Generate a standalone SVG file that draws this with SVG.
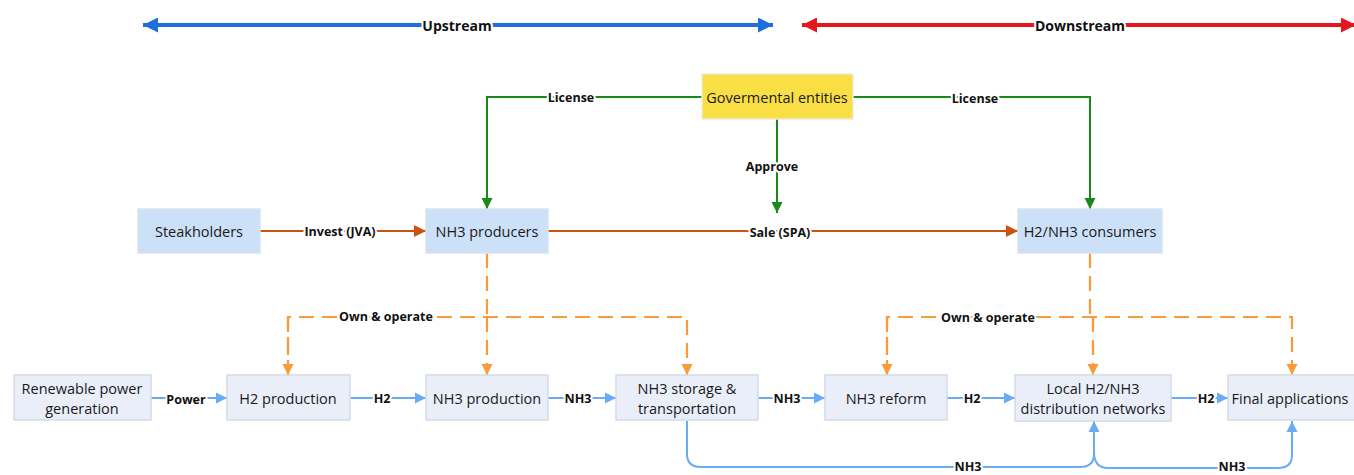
<svg xmlns="http://www.w3.org/2000/svg" width="1354" height="475" viewBox="0 0 1354 475">
<style>
.nt{font-family:"Open Sans","Noto Sans","Liberation Sans",sans-serif;font-size:14.5px;fill:#1a1a1a;text-anchor:middle;dominant-baseline:central}
.lb{font-family:"Open Sans","Noto Sans","Liberation Sans",sans-serif;font-size:12.5px;font-weight:bold;fill:#111;text-anchor:middle;dominant-baseline:central;stroke:#fff;stroke-width:4;paint-order:stroke;stroke-linejoin:round}
.top{fill:#CCE1F7;stroke:#D8E3EF;stroke-width:1.5}
.bot{fill:#E9EEF9;stroke:#D3DAE6;stroke-width:1.5}
.gov{fill:#F9DF44;stroke:#EDEBD8;stroke-width:1.5}
.g{fill:none;stroke:#198A19;stroke-width:2}
.o{fill:none;stroke:#C9530F;stroke-width:2}
.d{fill:none;stroke:#FA9A3C;stroke-width:2.2;stroke-dasharray:15 8}
.b{fill:none;stroke:#6AABF5;stroke-width:2}
</style>
<defs>
<marker id="mg" viewBox="0 0 10 10" refX="10" refY="5" markerWidth="11" markerHeight="12" markerUnits="userSpaceOnUse" orient="auto"><path d="M0,0L10,5L0,10z" fill="#198A19"/></marker>
<marker id="mo" viewBox="0 0 10 10" refX="10" refY="5" markerWidth="12" markerHeight="12" markerUnits="userSpaceOnUse" orient="auto"><path d="M0,0L10,5L0,10z" fill="#C9530F"/></marker>
<marker id="md" viewBox="0 0 10 10" refX="10" refY="5" markerWidth="11" markerHeight="12" markerUnits="userSpaceOnUse" orient="auto"><path d="M0,0L10,5L0,10z" fill="#FA9A3C"/></marker>
<marker id="mb" viewBox="0 0 10 10" refX="10" refY="5" markerWidth="11" markerHeight="12" markerUnits="userSpaceOnUse" orient="auto"><path d="M0,0L10,5L0,10z" fill="#6AABF5"/></marker>
<marker id="mB" viewBox="0 0 10 10" refX="10" refY="5" markerWidth="16" markerHeight="15" markerUnits="userSpaceOnUse" orient="auto-start-reverse"><path d="M0,0L10,5L0,10z" fill="#1F6FDB"/></marker>
<marker id="mR" viewBox="0 0 10 10" refX="10" refY="5" markerWidth="16" markerHeight="15" markerUnits="userSpaceOnUse" orient="auto-start-reverse"><path d="M0,0L10,5L0,10z" fill="#E5161E"/></marker>
</defs>
<rect width="1354" height="475" fill="#fff"/>

<g id="connectors">
<path d="M143 25H773" fill="none" stroke="#1F6FDB" stroke-width="4" marker-start="url(#mB)" marker-end="url(#mB)"/>
<path d="M802 25H1356" fill="none" stroke="#E5161E" stroke-width="4" marker-start="url(#mR)" marker-end="url(#mR)"/>

<path class="g" d="M702 97H487V209" marker-end="url(#mg)"/>
<path class="g" d="M853 97H1090V209" marker-end="url(#mg)"/>
<path class="g" d="M777 119V213" marker-end="url(#mg)"/>

<path class="o" d="M260 231H426" marker-end="url(#mo)"/>
<path class="o" d="M548 231H1018" marker-end="url(#mo)"/>

<path class="d" d="M487 253V317"/>
<path class="d" d="M288 375V317H687V375" marker-end="url(#md)"/>
<path class="d" d="M288 317V375" marker-end="url(#md)"/>
<path class="d" d="M487 317V375" marker-end="url(#md)"/>
<path class="d" d="M1090 253V317"/>
<path class="d" d="M887 375V317H1292V375" marker-end="url(#md)"/>
<path class="d" d="M887 317V375" marker-end="url(#md)"/>
<path class="d" d="M1093 317V375" marker-end="url(#md)"/>

<path class="b" d="M151 398H227" marker-end="url(#mb)"/>
<path class="b" d="M350 398H426" marker-end="url(#mb)"/>
<path class="b" d="M548 398H616" marker-end="url(#mb)"/>
<path class="b" d="M758 398H825" marker-end="url(#mb)"/>
<path class="b" d="M947 398H1015" marker-end="url(#mb)"/>
<path class="b" d="M1171 398H1228" marker-end="url(#mb)"/>
<path class="b" d="M687 421V454Q687 467 701 467H1080Q1094 467 1094 454V421" marker-end="url(#mb)"/>
<path class="b" d="M1094 452Q1094 468 1108 468H1278Q1292 468 1292 455V421" marker-end="url(#mb)"/>

<text class="lb" x="457" y="25" style="font-size:14px">Upstream</text>
<text class="lb" x="1080" y="25" style="font-size:14px">Downstream</text>
<text class="lb" x="571" y="97">License</text>
<text class="lb" x="975" y="98">License</text>
<text class="lb" x="772" y="166">Approve</text>
<text class="lb" x="340" y="231">Invest (JVA)</text>
<text class="lb" x="780" y="232">Sale (SPA)</text>
<text class="lb" x="386" y="316">Own &amp; operate</text>
<text class="lb" x="988" y="317">Own &amp; operate</text>
<text class="lb" x="186" y="399">Power</text>
<text class="lb" x="382" y="398">H2</text>
<text class="lb" x="578" y="398">NH3</text>
<text class="lb" x="787" y="398">NH3</text>
<text class="lb" x="972" y="398">H2</text>
<text class="lb" x="1206" y="398">H2</text>
<text class="lb" x="968" y="466">NH3</text>
<text class="lb" x="1232" y="466">NH3</text>
</g>

<g id="gov"><rect class="gov" x="702" y="74" width="151" height="45"/><text class="nt" x="777" y="97">Govermental entities</text></g>
<g id="steak"><rect class="top" x="138" y="209" width="122" height="44"/><text class="nt" x="199" y="231">Steakholders</text></g>
<g id="producers"><rect class="top" x="426" y="209" width="122" height="44"/><text class="nt" x="487" y="231">NH3 producers</text></g>
<g id="consumers"><rect class="top" x="1018" y="209" width="144" height="44"/><text class="nt" x="1090" y="231">H2/NH3 consumers</text></g>

<g id="renewable"><rect class="bot" x="14" y="375" width="137" height="45"/><text class="nt" x="82" y="388">Renewable power</text><text class="nt" x="82" y="408">generation</text></g>
<g id="h2prod"><rect class="bot" x="227" y="375" width="123" height="45"/><text class="nt" x="288" y="398">H2 production</text></g>
<g id="nh3prod"><rect class="bot" x="426" y="375" width="122" height="45"/><text class="nt" x="487" y="398">NH3 production</text></g>
<g id="storage"><rect class="bot" x="616" y="375" width="142" height="45"/><text class="nt" x="687" y="388">NH3 storage &amp;</text><text class="nt" x="687" y="408">transportation</text></g>
<g id="reform"><rect class="bot" x="825" y="375" width="122" height="45"/><text class="nt" x="886" y="398">NH3 reform</text></g>
<g id="local"><rect class="bot" x="1015" y="375" width="156" height="46"/><text class="nt" x="1093" y="388">Local H2/NH3</text><text class="nt" x="1093" y="408">distribution networks</text></g>
<g id="final"><rect class="bot" x="1228" y="375" width="130" height="45"/><text class="nt" x="1290" y="398">Final applications</text></g>
</svg>
